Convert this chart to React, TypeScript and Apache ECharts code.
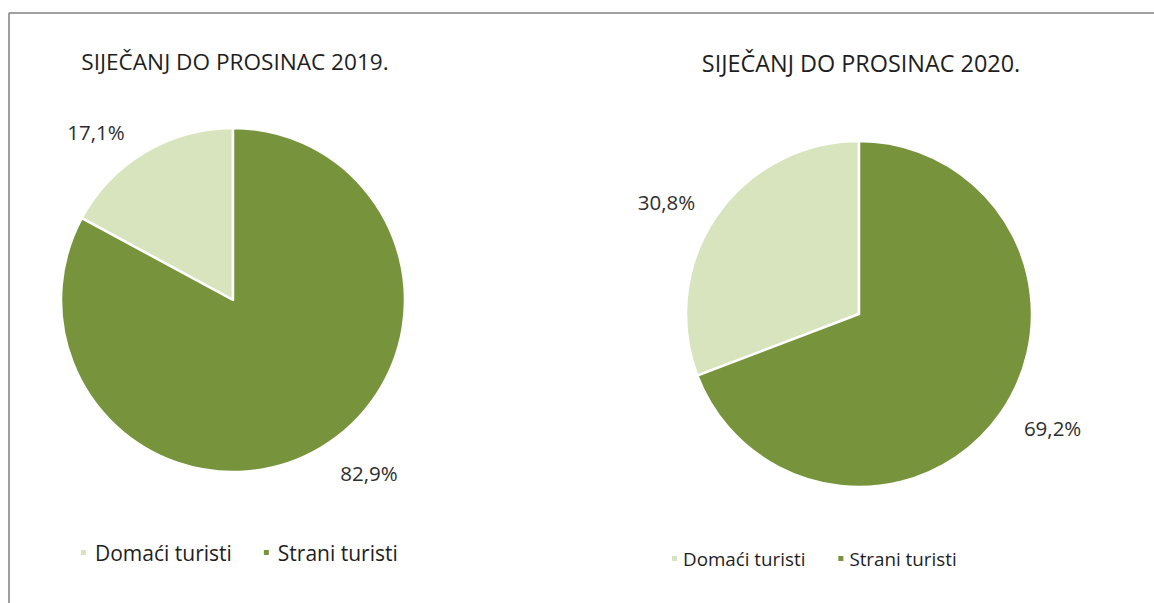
import React, { useEffect, useRef } from "react";
import * as echarts from "echarts";

const categories = ["Domaći turisti", "Strani turisti"];
const titles = ["SIJEČANJ DO PROSINAC 2019.", "SIJEČANJ DO PROSINAC 2020."];
const values2019 = [17.1, 82.9];
const values2020 = [30.8, 69.2];

const COLORS = ["#d7e4bd", "#77933c"];
const FONT = "'Open Sans', 'Noto Sans', sans-serif";

const fmt = (p: any) => `${Number(p.value).toFixed(1).replace(".", ",")}%`;

export default function App() {
  const ref = useRef<HTMLDivElement>(null);
  useEffect(() => {
    if (!ref.current) return;
    const chart = echarts.init(ref.current, undefined, { renderer: "svg" });
    const mkSeries = (
      vals: number[],
      center: [number, number],
      radius: number,
      nudges: [number, number][]
    ) => ({
      type: "pie",
      center,
      radius,
      startAngle: 90,
      clockwise: false,
      silent: true,
      data: categories.map((name, i) => ({
        name,
        value: vals[i],
        itemStyle: { color: COLORS[i] },
      })),
      itemStyle: { borderColor: "#ffffff", borderWidth: 2.5 },
      label: {
        show: true,
        position: "outside",
        formatter: fmt,
        fontFamily: FONT,
        fontSize: 20.5,
        color: "#2e2e2e",
      },
      labelLine: { show: false, length: 26, length2: 6 },
      labelLayout: (p: any) => ({ dx: nudges[p.dataIndex][0], dy: nudges[p.dataIndex][1] }),
    });
    const titleStyle = (size: number) => ({
      fontFamily: FONT,
      fontSize: size,
      fontWeight: "normal",
      color: "#1e1e1e",
    });
    chart.setOption({
      animation: false,
      backgroundColor: "#ffffff",
      title: [
        { text: titles[0], left: 230, top: 45, textAlign: "center", textStyle: titleStyle(22.6) },
        { text: titles[1], left: 856, top: 46, textAlign: "center", textStyle: titleStyle(23.4) },
      ],
      legend: [
        {
          data: categories,
          left: 74,
          top: 537,
          itemWidth: 7,
          itemHeight: 7,
          itemGap: 30,
          icon: "rect",
          textStyle: { fontFamily: FONT, fontSize: 21, color: "#1e1e1e", padding: [0, 0, 0, 3] },
          selectedMode: false,
        },
        {
          data: categories,
          left: 665,
          top: 544,
          itemWidth: 7,
          itemHeight: 7,
          itemGap: 31,
          icon: "rect",
          textStyle: { fontFamily: FONT, fontSize: 18.8, color: "#1e1e1e" },
          selectedMode: false,
        },
      ],
      graphic: [
        { type: "line", shape: { x1: 9, y1: 13, x2: 1154, y2: 13 }, style: { stroke: "#7f7f7f", lineWidth: 1.5 } },
        { type: "line", shape: { x1: 9, y1: 13, x2: 9, y2: 603 }, style: { stroke: "#7f7f7f", lineWidth: 1.5 } },
      ],
      series: [
        mkSeries(values2019, [233, 300], 172, [[4, 2], [-5, 3]]),
        mkSeries(values2020, [859, 314], 173, [[11, 1], [-10, 1]]),
      ],
    });
    return () => chart.dispose();
  }, []);
  return (
    <div
      ref={ref}
      style={{ position: "absolute", left: 0, top: 0, width: 1154, height: 603 }}
    />
  );
}
